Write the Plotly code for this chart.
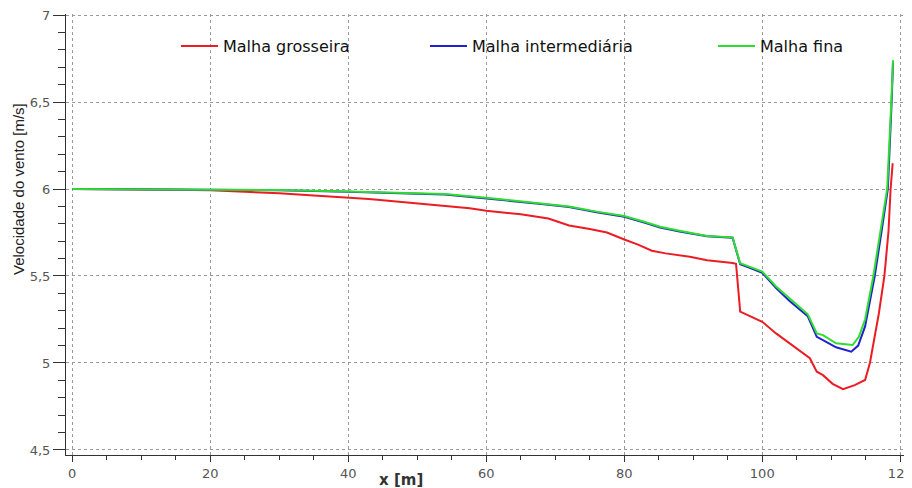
import plotly.graph_objects as go

# ---- data ----
x_grosseira = [0, 5, 10, 15, 20, 25, 30, 35, 40, 43, 45, 49, 54, 57.6, 60, 65, 69, 72, 75, 77.5,
               80, 82, 84, 86, 89.5, 92, 95.7, 96.2, 96.8, 98, 100, 102, 104, 105, 106.9, 107.9,
               108.8, 110.2, 111.7, 113.4, 114.9, 115.6, 116.9, 117.7, 118.3, 118.6, 118.9]
y_grosseira = [6.0, 6.0, 5.998, 5.996, 5.993, 5.985, 5.975, 5.963, 5.952, 5.942, 5.935, 5.92, 5.905, 5.89,
               5.875, 5.855, 5.83, 5.79, 5.77, 5.75, 5.71, 5.68, 5.645, 5.63, 5.61, 5.59, 5.575, 5.57,
               5.295, 5.275, 5.237, 5.17, 5.11, 5.08, 5.027, 4.95, 4.93, 4.88, 4.849, 4.873, 4.902,
               5.0, 5.286, 5.5, 5.76, 6.0, 6.148]

x_intermediaria = [0, 20, 30, 40, 45, 50, 54, 60, 65, 68, 72, 76, 80, 83, 85.2, 88, 90, 92, 95.7,
                   96.8, 98, 100, 102, 104, 106.6, 107.9, 108.8, 110.7, 112.9, 113.9, 114.9, 116.3,
                   117.3, 118.2, 118.75, 118.95]
y_intermediaria = [6.0, 5.997, 5.993, 5.984, 5.980, 5.973, 5.968, 5.947, 5.926, 5.914, 5.896, 5.866,
                   5.841, 5.806, 5.779, 5.756, 5.742, 5.728, 5.72, 5.568, 5.55, 5.518, 5.43, 5.355,
                   5.268, 5.15, 5.132, 5.09, 5.065, 5.10, 5.21, 5.5, 5.76, 6.0, 6.5, 6.73]

x_fina = [0, 20, 30, 40, 45, 50, 54, 60, 65, 68, 72, 76, 80, 83, 85.2, 88, 90, 92, 95.7, 96.8, 98,
          100, 102, 104, 106.6, 107.9, 108.8, 110.7, 113.1, 114, 114.9, 116.1, 117.1, 118.1, 118.7, 118.95]
y_fina = [6.0, 5.998, 5.994, 5.986, 5.982, 5.975, 5.971, 5.95, 5.93, 5.918, 5.9, 5.87, 5.845, 5.81,
          5.783, 5.76, 5.745, 5.73, 5.722, 5.573, 5.555, 5.525, 5.44, 5.37, 5.28, 5.17, 5.16, 5.113,
          5.103, 5.15, 5.25, 5.5, 5.74, 6.0, 6.5, 6.74]

series_names = ["Malha grosseira", "Malha intermediária", "Malha fina"]
x_ticks = [0, 20, 40, 60, 80, 100, 120]
y_ticks = [4.5, 5, 5.5, 6, 6.5, 7]

colors = ["#ec1c24", "#1f22cc", "#2fdc2f"]

fig = go.Figure()
for xs, ys, name, col, lg in [
    (x_grosseira, y_grosseira, series_names[0], colors[0], "legend"),
    (x_intermediaria, y_intermediaria, series_names[1], colors[1], "legend2"),
    (x_fina, y_fina, series_names[2], colors[2], "legend3"),
]:
    fig.add_trace(go.Scatter(x=xs, y=ys, mode="lines", name=name,
                             line=dict(color=col, width=2), legend=lg))

# page has an 8px body margin: figure is drawn at (8, 8)
OFF = 8
W, H = 912 - OFF, 488 - OFF
L, R, T, B = 66 - OFF, 0, 14 - OFF, 488 - 455
pw = W - L - R
ph = H - T - B


def px_x(p):
    return (p - OFF - L) / pw


def px_y(p):
    return (H - B - (p - OFF)) / ph


legend_font = dict(family="DejaVu Sans", size=16, color="#111111")
leg_common = dict(orientation="h", yanchor="middle", xanchor="left", y=px_y(46),
                  bgcolor="rgba(0,0,0,0)", font=legend_font, itemwidth=37)

fig.update_layout(
    width=W, height=H,
    margin=dict(l=L, r=R, t=T, b=B),
    paper_bgcolor="white", plot_bgcolor="white",
    separators=",.",
    showlegend=True,
    legend=dict(x=px_x(176), **leg_common),
    legend2=dict(x=px_x(425), **leg_common),
    legend3=dict(x=px_x(713), **leg_common),
    xaxis=dict(
        range=[-0.9, 121.7], tickvals=x_ticks, ticktext=[str(v) for v in x_ticks],
        showline=True, linecolor="#333333", linewidth=1,
        ticks="outside", ticklen=6, tickcolor="#333333",
        tickfont=dict(family="DejaVu Sans", size=13, color="#555555"),
        ticklabeloverflow="allow",
        showgrid=True, gridcolor="#9a9a9a", griddash="dot", gridwidth=1,
        zeroline=False,
        minor=dict(dtick=5, tick0=0, ticks="outside", ticklen=4, tickcolor="#333333", showgrid=False),
    ),
    yaxis=dict(
        range=[4.471, 7.006], tickvals=y_ticks,
        showline=True, linecolor="#333333", linewidth=1,
        ticks="outside", ticklen=12, tickcolor="#333333",
        tickfont=dict(family="DejaVu Sans", size=13, color="#555555"),
        ticklabeloverflow="allow",
        showgrid=True, gridcolor="#9a9a9a", griddash="dot", gridwidth=1,
        zeroline=False,
        minor=dict(dtick=0.1, tick0=4.5, ticks="outside", ticklen=7, tickcolor="#333333", showgrid=False),
    ),
    annotations=[
        dict(text="x [m]", xref="paper", yref="paper", x=px_x(401), y=px_y(480),
             xanchor="center", yanchor="middle", showarrow=False,
             font=dict(family="DejaVu Sans", size=15, color="#333333", weight="bold")),
        dict(text="Velocidade do vento [m/s]", xref="paper", yref="paper",
             x=px_x(18), y=px_y(189), xanchor="center", yanchor="middle",
             textangle=-90, showarrow=False,
             font=dict(family="Liberation Sans", size=15, color="#222222")),
    ],
)

fig.write_html("out.html")
